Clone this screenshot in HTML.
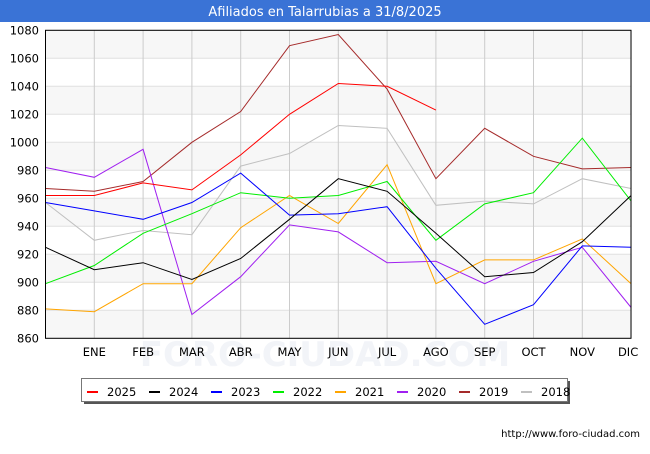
<!DOCTYPE html>
<html><head><meta charset="utf-8"><style>
body{margin:0;width:650px;height:450px;background:#fff;font-family:"DejaVu Sans","Liberation Sans",sans-serif;overflow:hidden}
</style></head><body>
<svg width="650" height="450" xmlns="http://www.w3.org/2000/svg">
<rect x="0" y="0" width="650" height="22" fill="#3a73d6"/>
<text x="325" y="16" text-anchor="middle" fill="#fff" font-size="13">Afiliados en Talarrubias a 31/8/2025</text>
<g id="grid"></g>
<text x="325" y="366" text-anchor="middle" fill="#f2f4f8" font-size="34" font-weight="bold">FORO-CIUDAD.COM</text>
<g id="labels"></g>
<g id="series"></g>
<rect x="45.5" y="30.3" width="585.5" height="308" fill="none" stroke="#000" stroke-width="1"/>
<g id="legend"></g>
<text x="640" y="437" text-anchor="end" font-size="10" fill="#000">http://www.foro-ciudad.com</text>
</svg>
<script>
const months=["","ENE","FEB","MAR","ABR","MAY","JUN","JUL","AGO","SEP","OCT","NOV","DIC"];
const yTicks=[860,880,900,920,940,960,980,1000,1020,1040,1060,1080];
const seriesNames=["2025","2024","2023","2022","2021","2020","2019","2018"];
const seriesColors=["#ff0000","#000000","#0000ff","#00ee00","#ffa500","#a020f0","#a52a2a","#c0c0c0"];
const s2025=[962,962,971,966,991,1020,1042,1040,1023];
const s2024=[925,909,914,902,917,945,974,965,935,904,907,929,962];
const s2023=[957,951,945,957,978,948,949,954,910,870,884,926,925];
const s2022=[899,912,935,949,964,960,962,972,930,956,964,1003,958];
const s2021=[881,879,899,899,939,962,942,984,899,916,916,931,899];
const s2020=[982,975,995,877,904,941,936,914,915,899,915,925,882];
const s2019=[967,965,972,1000,1022,1069,1077,1038,974,1010,990,981,982];
const s2018=[957,930,937,934,983,992,1012,1010,955,958,956,974,967];
const allSeries=[s2025,s2024,s2023,s2022,s2021,s2020,s2019,s2018];
const NS="http://www.w3.org/2000/svg";
const X0=45.5,DX=48.8,Y0=338.3,K=1.4;
const xs=i=>X0+i*DX, ys=v=>Y0-(v-860)*K;
function mk(t,a,p){const e=document.createElementNS(NS,t);for(const k in a)e.setAttribute(k,a[k]);p.appendChild(e);return e;}
const grid=document.getElementById('grid');
const labels=document.getElementById('labels');
for(let i=0;i<yTicks.length-1;i++){
  if(i%2==0){const b=mk('rect',{x:X0,y:ys(yTicks[i+1]),width:585.5,height:28,fill:'#f7f7f7'},grid);
  
  }
}
yTicks.forEach(v=>{
  const l=mk('line',{x1:X0,x2:631,y1:ys(v),y2:ys(v),stroke:'#e0e0e0'},grid);
  
  
  const t=mk('text',{x:39,y:ys(v)+4,'text-anchor':'end','font-size':'11.5',fill:'#000'},labels);t.textContent=v;
  
  
});
months.forEach((m,i)=>{
  if(i==0)return;
  const l=mk('line',{x1:xs(i),x2:xs(i),y1:30,y2:338,stroke:'#cccccc'},grid);
  
  
  const t=mk('text',{x:xs(i)-(i==12?3:0),y:356,'text-anchor':'middle','font-size':'11.5',fill:'#000'},labels);t.textContent=m;
  
  
});
const sg=document.getElementById('series');
for(let k=allSeries.length-1;k>=0;k--){
  const pts=allSeries[k].map((v,i)=>xs(i)+','+ys(v)).join(' ');
  const p=mk('polyline',{points:pts,fill:'none',stroke:seriesColors[k],'stroke-width':'1'},sg);
  
  
}
const lg=document.getElementById('legend');
const sh=mk('rect',{x:84,y:381,width:486,height:23,fill:'#555'},lg);


const box=mk('rect',{x:81.5,y:378.5,width:486,height:23,fill:'#fff',stroke:'#777'},lg);


seriesNames.forEach((n,i)=>{
  const x=87+i*62;
  const l=mk('line',{x1:x,x2:x+11,y1:392,y2:392,stroke:seriesColors[i],'stroke-width':'2'},lg);
  
  
  const t=mk('text',{x:x+20,y:396,'font-size':'11.5',fill:'#000'},lg);t.textContent=n;
  
  
});
</script>
</body></html>
